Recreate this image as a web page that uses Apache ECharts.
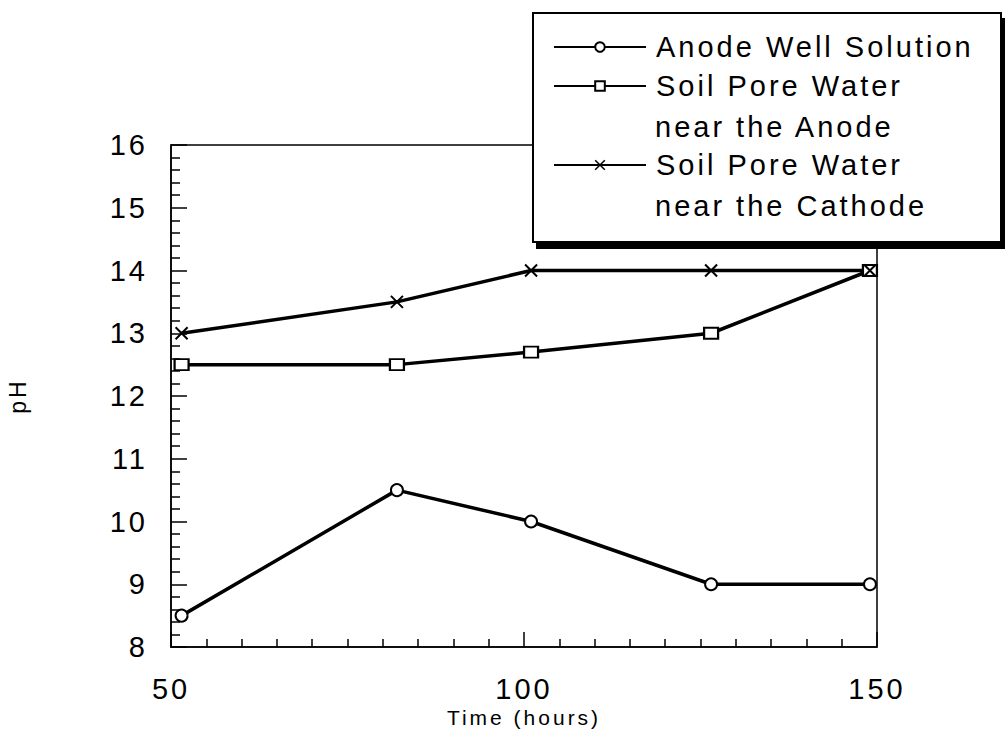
<!DOCTYPE html>
<html>
<head>
<meta charset="utf-8">
<script src="https://cdn.jsdelivr.net/npm/echarts@6/dist/echarts.min.js"></script>
<style>
html,body{margin:0;padding:0;background:#fff;}
#chart{width:1005px;height:732px;}
#chart text{letter-spacing:3px;}
</style>
</head>
<body>
<div id="chart"></div>
<script>
// Data
const timeHours = [51.5, 82.0, 101.0, 126.5, 149.0];
const anodeWell = [8.5, 10.5, 10.0, 9.0, 9.0];
const soilNearAnode = [12.5, 12.5, 12.7, 13.0, 14.0];
const soilNearCathode = [13.0, 13.5, 14.0, 14.0, 14.0];
const seriesNames = ['Anode Well Solution', 'Soil Pore Water near the Anode', 'Soil Pore Water near the Cathode'];
const legendFirstLines = ['Anode Well Solution', 'Soil Pore Water', 'Soil Pore Water'];
const legendSecondLines = ['', 'near the Anode', 'near the Cathode'];
const xAxisTitle = 'Time (hours)';
const yAxisTitle = 'pH';

const pairs = (xs, ys) => xs.map((x, i) => [x, ys[i]]);
const FONT = 'Liberation Sans';

const chart = echarts.init(document.getElementById('chart'), null, {renderer: 'svg'});

// icon centre y for each legend row
const rowCenters = [47, 86, 165];
const rowGap = 41;

function legendFor(idx) {
  return {
    data: [seriesNames[idx]],
    left: 553, top: rowCenters[idx] - 17, padding: 0,
    orient: 'vertical',
    itemWidth: 92, itemHeight: 12,
    formatter: () => legendFirstLines[idx],
    lineStyle: {width: 2, color: '#000'},
    itemStyle: {color: '#000', borderColor: '#000', borderWidth: 1.5},
    textStyle: {fontFamily: FONT, fontSize: 29, color: '#000', lineHeight: 34, padding: [0, 0, 0, 5]},
    z: 20,
    selectedMode: false
  };
}

const secondLineTexts = legendSecondLines.map((t, i) => t ? {
  type: 'text', z: 20, x: 655, y: rowCenters[i] + rowGap,
  style: {text: t, fontFamily: FONT, fontSize: 29, fill: '#000', verticalAlign: 'middle', align: 'left'}
} : null).filter(Boolean);

const xSymbol = 'path://M0,0L10,10M10,0L0,10';

chart.setOption({
  animation: false,
  backgroundColor: '#fff',
  grid: {left: 171, top: 145, right: 128, bottom: 85, outerBoundsMode: 'none', containLabel: false,
         show: true, borderColor: '#000', borderWidth: 1.5, backgroundColor: 'transparent'},
  xAxis: {
    type: 'value', min: 50, max: 150, interval: 50,
    name: xAxisTitle, nameLocation: 'middle', nameGap: 60, nameMoveOverlap: false,
    nameTextStyle: {fontFamily: FONT, fontSize: 21, color: '#000', lineHeight: 21},
    axisLine: {lineStyle: {color: '#000', width: 1.5}},
    axisTick: {inside: true, length: 15, lineStyle: {color: '#000', width: 1.5}},
    minorTick: {show: true, splitNumber: 10, length: 8, lineStyle: {color: '#000', width: 1.5}},
    axisLabel: {fontFamily: FONT, fontSize: 29, color: '#000', margin: 30, lineHeight: 24},
    splitLine: {show: false}
  },
  yAxis: {
    type: 'value', min: 8, max: 16, interval: 1,
    name: yAxisTitle, nameLocation: 'middle', nameGap: 142, nameRotate: 90, nameMoveOverlap: false,
    nameTextStyle: {fontFamily: FONT, fontSize: 23, color: '#000'},
    axisLine: {lineStyle: {color: '#000', width: 1.5}},
    axisTick: {inside: true, length: 16, lineStyle: {color: '#000', width: 1.5}},
    minorTick: {show: true, splitNumber: 5, length: 9, lineStyle: {color: '#000', width: 1.5}},
    axisLabel: {fontFamily: FONT, fontSize: 29, color: '#000', margin: 23},
    splitLine: {show: false}
  },
  legend: [legendFor(0), legendFor(1), legendFor(2)],
  graphic: [{
    type: 'rect', z: 15,
    shape: {x: 533, y: 13, width: 468, height: 229},
    style: {fill: '#fff', stroke: '#000', lineWidth: 2, shadowColor: '#000', shadowBlur: 0, shadowOffsetX: 4, shadowOffsetY: 6}
  }].concat(secondLineTexts),
  series: [
    {name: seriesNames[0], type: 'line', data: pairs(timeHours, anodeWell),
     symbol: 'emptyCircle', symbolSize: 12, lineStyle: {color: '#000', width: 3.5},
     itemStyle: {color: '#000', borderWidth: 1.5}},
    {name: seriesNames[1], type: 'line', data: pairs(timeHours, soilNearAnode),
     symbol: 'emptyRect', symbolSize: [14, 11], lineStyle: {color: '#000', width: 3.5},
     itemStyle: {color: '#000', borderWidth: 1.5}},
    {name: seriesNames[2], type: 'line', data: pairs(timeHours, soilNearCathode),
     symbol: xSymbol, symbolSize: 12, lineStyle: {color: '#000', width: 3.5},
     itemStyle: {color: '#000', borderColor: '#000', borderWidth: 2}}
  ]
});
</script>
</body>
</html>
